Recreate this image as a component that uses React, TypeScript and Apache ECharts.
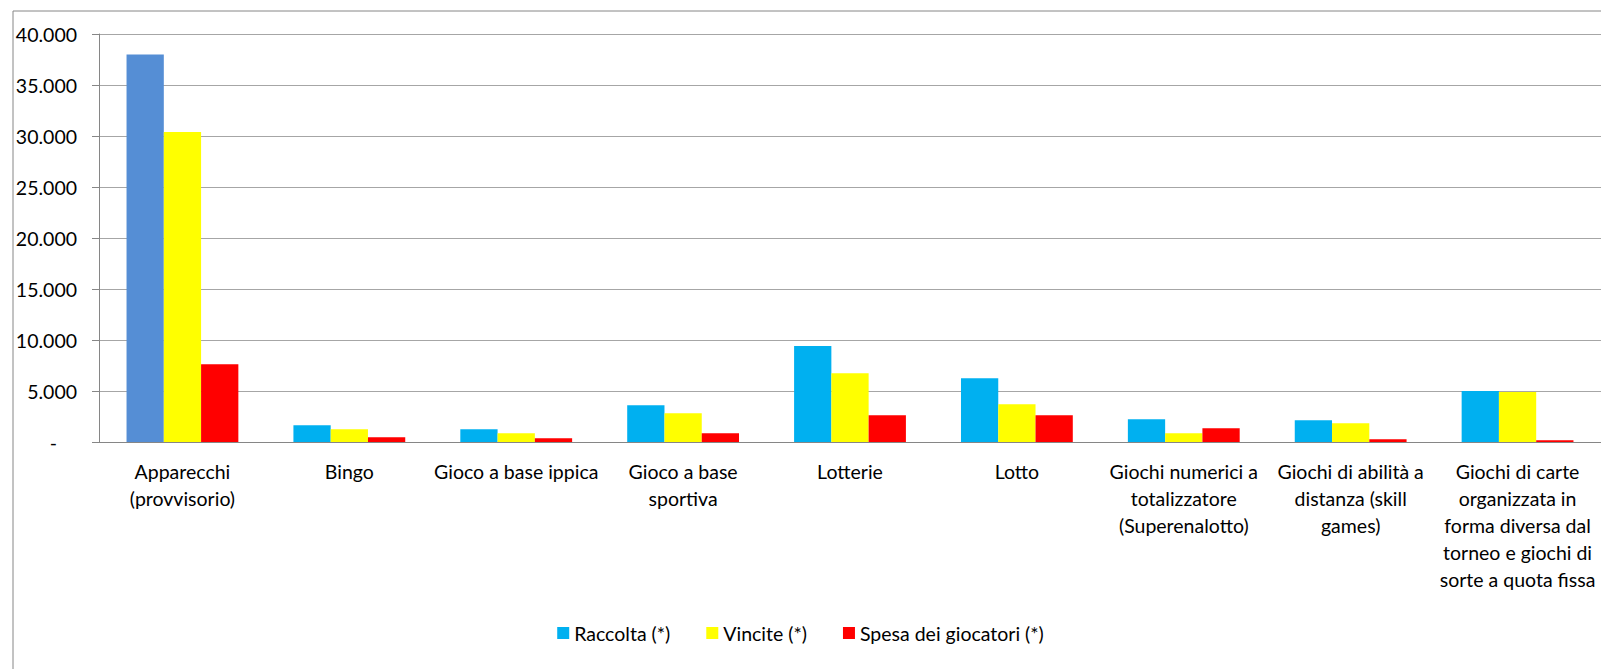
import React, { useEffect, useRef } from "react";
import * as echarts from "echarts";

const categories: string[] = [
  "Apparecchi\n(provvisorio)",
  "Bingo",
  "Gioco a base ippica",
  "Gioco a base\nsportiva",
  "Lotterie",
  "Lotto",
  "Giochi numerici a\ntotalizzatore\n(Superenalotto)",
  "Giochi di abilità a\ndistanza (skill\ngames)",
  "Giochi di carte\norganizzata in\nforma diversa dal\ntorneo e giochi di\nsorte a quota fissa",
];

const raccolta: number[] = [38000, 1640, 1250, 3600, 9400, 6250, 2230, 2130, 4990];
const vincite: number[] = [30400, 1250, 850, 2820, 6750, 3700, 850, 1840, 4910];
const spesa: number[] = [7630, 460, 360, 850, 2630, 2630, 1350, 270, 170];

const seriesNames: string[] = ["Raccolta (*)", "Vincite (*)", "Spesa dei giocatori (*)"];
const yTicks = { min: 0, max: 40000, interval: 5000 };

const FONT = "Lato";
const FS = 19.5;

function fmt(v: number): string {
  if (v === 0) return "{z|-}";
  return v.toLocaleString("it-IT").replace(/,/g, ".");
}

export default function App() {
  const ref = useRef<HTMLDivElement>(null);
  useEffect(() => {
    if (!ref.current) return;
    const chart = echarts.init(ref.current, undefined, { renderer: "svg" });
    chart.setOption({
      animation: false,
      backgroundColor: "#ffffff",
      textStyle: { fontFamily: FONT, color: "#000" },
      graphic: [
        {
          type: "rect",
          shape: { x: 13, y: 11, width: 1700, height: 800 },
          style: { fill: "none", stroke: "#868686", lineWidth: 1 },
          silent: true,
          z: -1,
        },
      ],
      legend: {
        left: "center",
        top: 618,
        itemWidth: 12,
        itemHeight: 12,
        itemGap: 36,
        icon: "rect",
        textStyle: { fontFamily: FONT, fontSize: FS, color: "#000" },
        data: seriesNames,
      },
      grid: { left: 99, top: 34, width: 1507, height: 408 },
      xAxis: {
        type: "category",
        data: categories,
        axisLine: { lineStyle: { color: "#868686" } },
        axisTick: { length: 7, lineStyle: { color: "#868686" } },
        axisLabel: {
          interval: 0,
          margin: 16,
          fontFamily: FONT,
          fontSize: FS,
          lineHeight: 27,
          color: "#000",
          align: "center",
        },
      },
      yAxis: {
        type: "value",
        min: yTicks.min,
        max: yTicks.max,
        interval: yTicks.interval,
        axisLine: { show: true, lineStyle: { color: "#868686" } },
        axisTick: { show: true, length: 7, lineStyle: { color: "#868686" } },
        splitLine: { lineStyle: { color: "#A6A6A6" } },
        axisLabel: {
          margin: 22,
          fontFamily: FONT,
          fontSize: FS,
          color: "#000",
          formatter: fmt,
          rich: { z: { fontFamily: FONT, fontSize: FS, color: "#000", padding: [0, 20, 0, 0] } },
        },
      },
      series: [
        {
          name: seriesNames[0],
          type: "bar",
          data: raccolta.map((v, i) => (i === 0 ? { value: v, itemStyle: { color: "#558ED5" } } : v)),
          itemStyle: { color: "#00B0F0" },
          barGap: "0%",
          barCategoryGap: "33%",
        },
        { name: seriesNames[1], type: "bar", data: vincite, itemStyle: { color: "#FFFF00" }, barGap: "0%", barCategoryGap: "33%" },
        { name: seriesNames[2], type: "bar", data: spesa, itemStyle: { color: "#FF0000" }, barGap: "0%", barCategoryGap: "33%" },
      ],
    });
    return () => chart.dispose();
  }, []);
  return <div ref={ref} style={{ position: "fixed", left: 0, top: 0, width: 1601, height: 669 }} />;
}
